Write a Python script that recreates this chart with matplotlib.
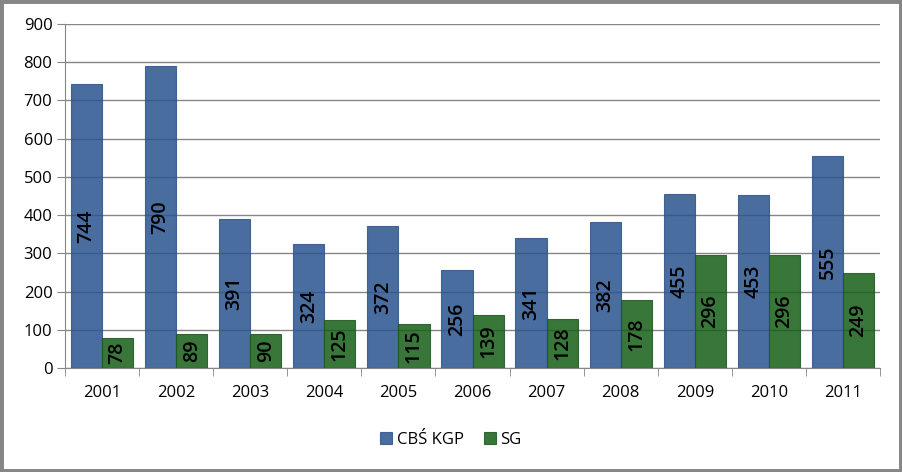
import numpy as np
import matplotlib.pyplot as plt
from matplotlib.patches import Rectangle

years = ['2001', '2002', '2003', '2004', '2005', '2006', '2007', '2008', '2009', '2010', '2011']
cbs_kgp = [744, 790, 391, 324, 372, 256, 341, 382, 455, 453, 555]
sg = [78, 89, 90, 125, 115, 139, 128, 178, 296, 296, 249]

plt.rcParams['font.family'] = ['Open Sans', 'DejaVu Sans']

fig = plt.figure(figsize=(9.02, 4.72), dpi=100)
ax = fig.add_axes([65/902, 1-368/472, (880-65)/902, (368-24)/472])

x = np.arange(len(years))
w = 0.42
# slightly see-through bars: gridlines show faintly through them
b1 = ax.bar(x - w/2, cbs_kgp, w, color='#2a548e', alpha=0.85, edgecolor='#2f5488', linewidth=0.8, label='CBŚ KGP', zorder=2)
b2 = ax.bar(x + w/2, sg, w, color='#155e17', alpha=0.85, edgecolor='#1c571e', linewidth=0.8, label='SG', zorder=2)

for bars, vals in ((b1, cbs_kgp), (b2, sg)):
    for r, v in zip(bars, vals):
        ax.text(r.get_x() + r.get_width()/2, v/2, str(v), rotation=90, ha='center', va='center',
                fontsize=14, fontweight='semibold', color='black', zorder=4)

ax.set_xlim(-0.5, len(years) - 0.5)
ax.set_ylim(0, 900)
ax.set_yticks(range(0, 901, 100))
ax.yaxis.grid(True, color='#868686', linewidth=1)
ax.set_axisbelow(True)
ax.set_xticks(x)
ax.set_xticklabels(years)
ax.set_xticks(np.arange(-0.5, len(years)), minor=True)
ax.tick_params(axis='x', which='major', length=0, pad=12, labelsize=12)
ax.tick_params(axis='x', which='minor', length=6, color='#868686', direction='out')
ax.tick_params(axis='y', length=6, color='#868686', labelsize=12, pad=3)
for s in ('top', 'right'):
    ax.spines[s].set_visible(False)
ax.spines['left'].set_color('#868686')
ax.spines['bottom'].set_color('#868686')

ax.legend(loc='center', bbox_to_anchor=(0.5, (472-440)/472), bbox_transform=fig.transFigure,
          ncol=2, frameon=False, fontsize=12, handlelength=0.7, handleheight=0.7,
          handletextpad=0.3, columnspacing=1.2)

fig.add_artist(Rectangle((0, 0), 1, 1, transform=fig.transFigure, fill=False,
                         edgecolor='#868686', linewidth=5))

fig.savefig('out.png', dpi=100)
